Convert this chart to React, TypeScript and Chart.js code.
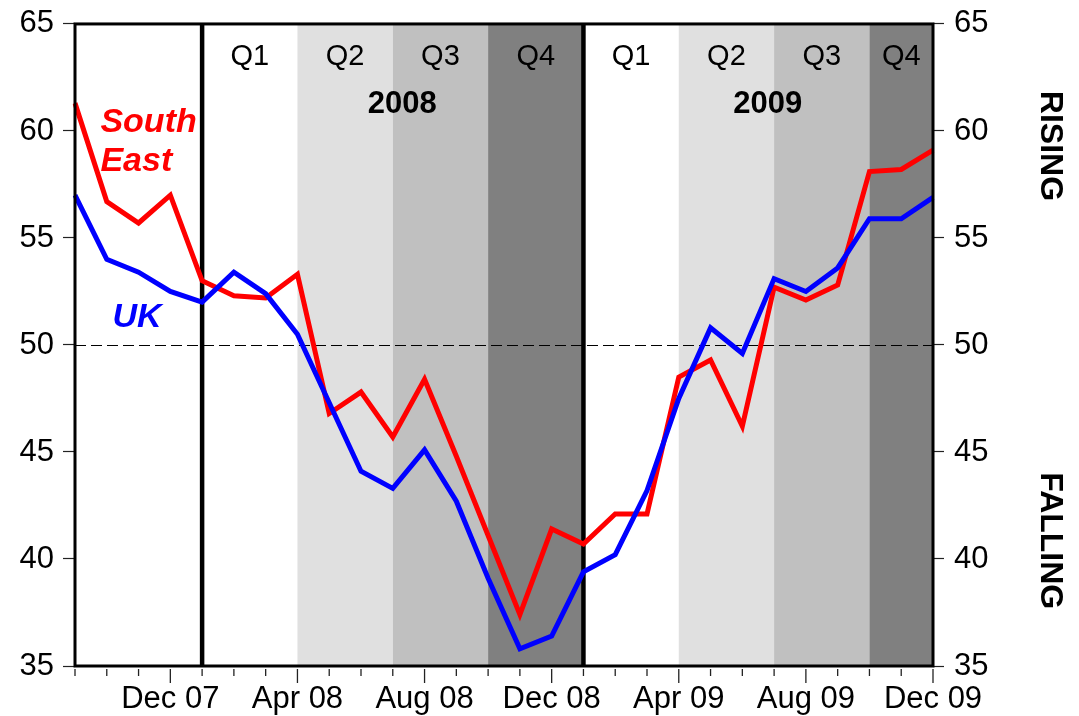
import React, { useEffect, useRef } from "react";
import { Chart, registerables } from "chart.js";

Chart.register(...registerables);

// ---------- data ----------
const months = [
  "Sep 07", "Oct 07", "Nov 07", "Dec 07",
  "Jan 08", "Feb 08", "Mar 08", "Apr 08", "May 08", "Jun 08",
  "Jul 08", "Aug 08", "Sep 08", "Oct 08", "Nov 08", "Dec 08",
  "Jan 09", "Feb 09", "Mar 09", "Apr 09", "May 09", "Jun 09",
  "Jul 09", "Aug 09", "Sep 09", "Oct 09", "Nov 09", "Dec 09",
];
const labeledMonths = ["Dec 07", "Apr 08", "Aug 08", "Dec 08", "Apr 09", "Aug 09", "Dec 09"];

const southEast = [
  61.3, 56.7, 55.7, 57.0,
  53.0, 52.3, 52.2, 53.3, 46.8, 47.8,
  45.7, 48.4, 44.8, 41.1, 37.4, 41.4,
  40.7, 42.1, 42.1, 48.5, 49.3, 46.2,
  52.7, 52.1, 52.8, 58.1, 58.2, 59.1,
];
const uk = [
  57.0, 54.0, 53.4, 52.5,
  52.0, 53.4, 52.4, 50.5, 47.3, 44.1,
  43.3, 45.1, 42.7, 39.1, 35.8, 36.4,
  39.4, 40.2, 43.2, 47.5, 50.8, 49.6,
  53.1, 52.5, 53.6, 55.9, 55.9, 56.9,
];

const yMin = 35;
const yMax = 65;
const yStep = 5;
const referenceLevel = 50;

const quarterLabels = ["Q1", "Q2", "Q3", "Q4", "Q1", "Q2", "Q3", "Q4"];
const quarterStarts = ["Jan 08", "Apr 08", "Jul 08", "Oct 08", "Jan 09", "Apr 09", "Jul 09", "Oct 09"];
const quarterEnds = ["Apr 08", "Jul 08", "Oct 08", "Jan 09", "Apr 09", "Jul 09", "Oct 09", "Dec 09"];
const yearLabels = ["2008", "2009"];
const yearStarts = ["Jan 08", "Jan 09"];

// ---------- styles ----------
const FONT = "'Liberation Sans', Arial, Helvetica, sans-serif";
const quarterShades = ["#ffffff", "#e0e0e0", "#c0c0c0", "#808080"];
const RED = "#ff0000";
const BLUE = "#0000ff";

const overlayPlugin = {
  id: "overlay",
  beforeDatasetsDraw(chart: any) {
    const { ctx, chartArea: a, scales } = chart;
    const x = scales.x;
    const y = scales.y;
    ctx.save();
    // quarter bands
    quarterStarts.forEach((s, i) => {
      const x0 = x.getPixelForValue(months.indexOf(s));
      const x1 = x.getPixelForValue(months.indexOf(quarterEnds[i]));
      ctx.fillStyle = quarterShades[i % 4];
      ctx.fillRect(x0, a.top, x1 - x0, a.bottom - a.top);
    });
    // reference dashed line
    const yr = Math.round(y.getPixelForValue(referenceLevel)) + 0.5;
    ctx.strokeStyle = "#000";
    ctx.lineWidth = 1;
    ctx.setLineDash([11, 5]);
    ctx.beginPath();
    ctx.moveTo(a.left, yr);
    ctx.lineTo(a.right, yr);
    ctx.stroke();
    ctx.setLineDash([]);
    // year dividers
    ctx.lineWidth = 4.5;
    yearStarts.forEach((s) => {
      const xv = x.getPixelForValue(months.indexOf(s));
      ctx.beginPath();
      ctx.moveTo(xv, a.top);
      ctx.lineTo(xv, a.bottom);
      ctx.stroke();
    });
    // quarter labels
    ctx.fillStyle = "#000";
    ctx.textAlign = "center";
    ctx.textBaseline = "alphabetic";
    ctx.font = `29px ${FONT}`;
    quarterStarts.forEach((s, i) => {
      const x0 = x.getPixelForValue(months.indexOf(s));
      const x1 = x.getPixelForValue(months.indexOf(quarterEnds[i]));
      ctx.fillText(quarterLabels[i], (x0 + x1) / 2, a.top + 41);
    });
    // year labels
    ctx.font = `bold 31px ${FONT}`;
    const yearOffsets = [6.3, 5.8];
    yearStarts.forEach((s, i) => {
      const xv = x.getPixelForValue(months.indexOf(s) + yearOffsets[i]);
      ctx.fillText(yearLabels[i], xv, a.top + 89);
    });
    ctx.restore();
  },
  afterDatasetsDraw(chart: any) {
    const { ctx, chartArea: a, scales } = chart;
    const x = scales.x;
    const y = scales.y;
    ctx.save();
    // frame
    ctx.strokeStyle = "#000";
    ctx.lineWidth = 3;
    ctx.strokeRect(a.left, a.top, a.right - a.left, a.bottom - a.top);
    // x tick marks
    ctx.lineWidth = 1.3;
    ctx.strokeStyle = "#222";
    months.forEach((m, i) => {
      const xv = x.getPixelForValue(i);
      const long = labeledMonths.includes(m);
      ctx.beginPath();
      ctx.moveTo(xv, a.bottom + 3);
      ctx.lineTo(xv, a.bottom + (long ? 17 : 10));
      ctx.stroke();
    });
    // series labels
    ctx.font = `italic bold 34px ${FONT}`;
    ctx.textAlign = "left";
    ctx.textBaseline = "alphabetic";
    ctx.fillStyle = RED;
    ctx.fillText("South", x.getPixelForValue(0.8), y.getPixelForValue(59.95));
    ctx.fillText("East", x.getPixelForValue(0.8), y.getPixelForValue(58.15));
    ctx.fillStyle = BLUE;
    ctx.fillText("UK", x.getPixelForValue(1.18), y.getPixelForValue(50.85));
    // side labels
    ctx.fillStyle = "#000";
    ctx.font = `bold 32px ${FONT}`;
    ctx.textAlign = "center";
    ctx.textBaseline = "middle";
    const drawVertical = (text: string, value: number) => {
      ctx.save();
      ctx.translate(a.right + 117, y.getPixelForValue(value));
      ctx.rotate(Math.PI / 2);
      ctx.fillText(text, 0, 0);
      ctx.restore();
    };
    drawVertical("RISING", 59.3);
    drawVertical("FALLING", 40.85);
    ctx.restore();
  },
};

export default function App() {
  const canvasRef = useRef<HTMLCanvasElement | null>(null);

  useEffect(() => {
    const canvas = canvasRef.current;
    if (!canvas) return;
    const xTickFont = { family: FONT, size: 31 };
    const yTickFont = { family: FONT, size: 31, lineHeight: 0.9 };
    const chart = new Chart(canvas, {
      type: "line",
      data: {
        labels: months,
        datasets: [
          {
            label: "UK",
            data: uk,
            borderColor: BLUE,
            backgroundColor: BLUE,
            borderWidth: 5,
            pointRadius: 0,
            tension: 0,
            borderJoinStyle: "miter",
            yAxisID: "y",
          },
          {
            label: "South East",
            data: southEast,
            borderColor: RED,
            backgroundColor: RED,
            borderWidth: 5,
            pointRadius: 0,
            tension: 0,
            borderJoinStyle: "miter",
            yAxisID: "y",
          },
        ],
      },
      options: {
        responsive: false,
        animation: false,
        events: [],
        layout: { padding: { top: 2, left: 0, right: 0, bottom: 0 } },
        plugins: { legend: { display: false }, tooltip: { enabled: false } },
        scales: {
          x: {
            type: "category",
            offset: false,
            grid: { display: false },
            border: { display: false },
            ticks: {
              autoSkip: false,
              maxRotation: 0,
              minRotation: 0,
              padding: 7,
              color: "#000",
              font: xTickFont,
              callback: (_v: any, i: number) => (labeledMonths.includes(months[i]) ? months[i] : ""),
            },
            afterFit: (s: any) => {
              s.height = 50;
            },
          },
          y: {
            type: "linear",
            position: "left",
            min: yMin,
            max: yMax,
            border: { display: false },
            grid: { drawOnChartArea: false, drawTicks: true, tickLength: 12, tickColor: "#222", tickWidth: 1.2 },
            ticks: { stepSize: yStep, padding: 9, color: "#000", font: yTickFont },
            afterFit: (s: any) => {
              s.width = 75;
            },
          },
          y2: {
            type: "linear",
            position: "right",
            min: yMin,
            max: yMax,
            border: { display: false },
            grid: { drawOnChartArea: false, drawTicks: true, tickLength: 11, tickColor: "#222", tickWidth: 1.2 },
            ticks: { stepSize: yStep, padding: 10, color: "#000", font: yTickFont },
            afterFit: (s: any) => {
              s.width = 146;
            },
          },
        },
      },
      plugins: [overlayPlugin],
    } as any);
    return () => chart.destroy();
  }, []);

  return (
    <div style={{ position: "absolute", left: 0, top: 0, width: 1079, height: 716, background: "#fff" }}>
      <canvas ref={canvasRef} width={1079} height={716} style={{ display: "block" }} />
    </div>
  );
}
